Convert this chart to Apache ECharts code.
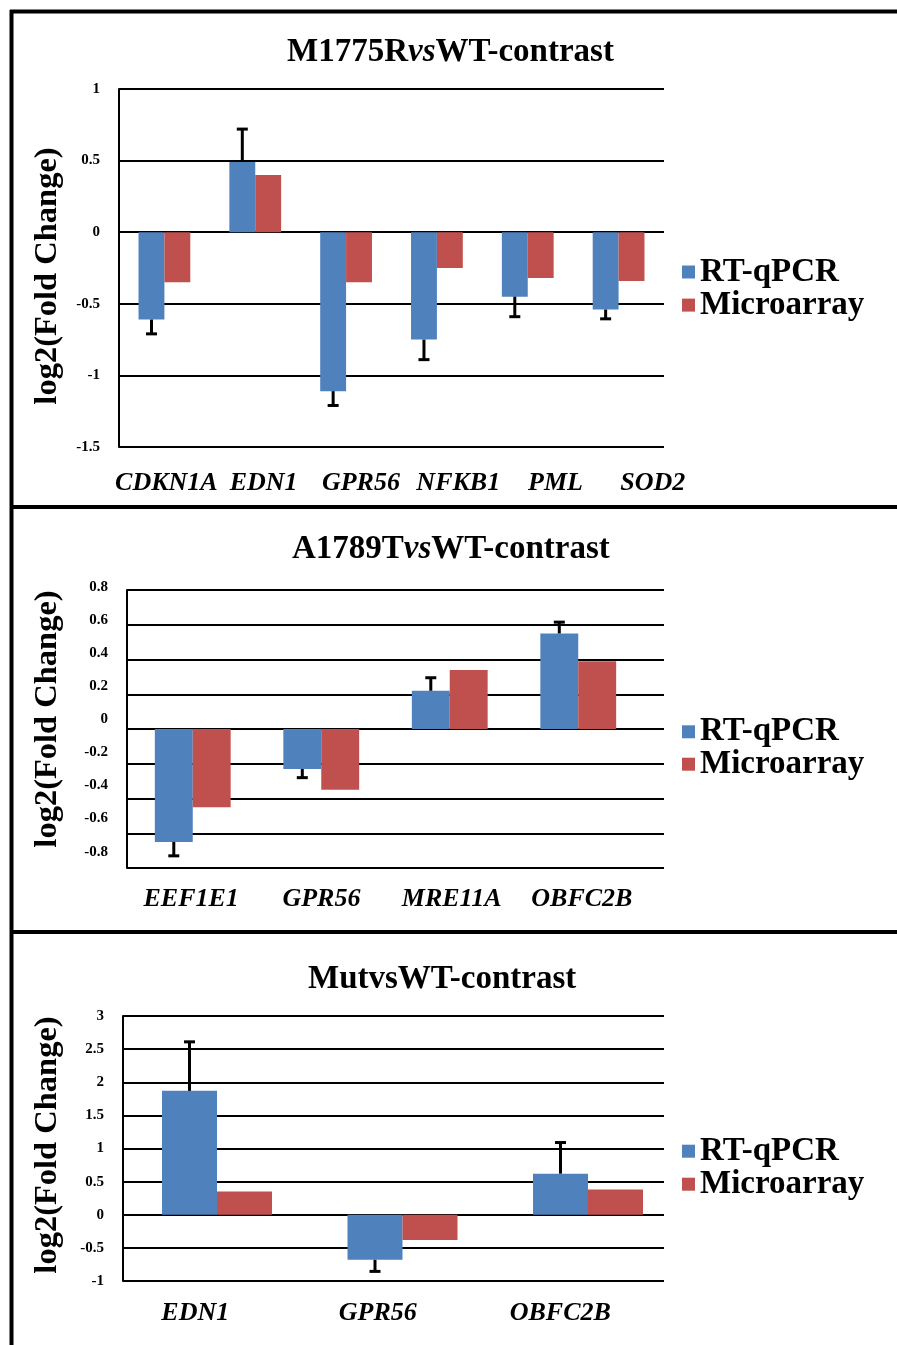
<!DOCTYPE html>
<html>
<head>
<meta charset="utf-8">
<script src="https://cdn.jsdelivr.net/npm/echarts@6/dist/echarts.min.js"></script>
<style>
html,body{margin:0;padding:0;background:#fff;}
#c{width:897px;height:1345px;}
</style>
</head>
<body>
<div id="c"></div>
<script>
// ---- data ----
const cats1 = ['CDKN1A', 'EDN1', 'GPR56', 'NFKB1', 'PML', 'SOD2'];
const qpcr1 = [-0.61, 0.49, -1.11, -0.75, -0.45, -0.54];
const qpcrErr1 = [0.10, 0.23, 0.10, 0.14, 0.14, 0.065];
const array1 = [-0.35, 0.40, -0.35, -0.25, -0.32, -0.34];
const yRange1 = [-1.5, 1, 0.5];

const cats2 = ['EEF1E1', 'GPR56', 'MRE11A', 'OBFC2B'];
const qpcr2 = [-0.65, -0.23, 0.22, 0.55];
const qpcrErr2 = [0.08, 0.05, 0.075, 0.065];
const array2 = [-0.45, -0.35, 0.34, 0.39];
const yRange2 = [-0.8, 0.8, 0.2];

const cats3 = ['EDN1', 'GPR56', 'OBFC2B'];
const qpcr3 = [1.87, -0.68, 0.62];
const qpcrErr3 = [0.74, 0.175, 0.47];
const array3 = [0.35, -0.38, 0.38];
const yRange3 = [-1, 3, 0.5];

const titles = [['M1775R', 'vs', 'WT-contrast', true], ['A1789T', 'vs', 'WT-contrast', true], ['Mut', 'vs', 'WT-contrast', false]];
const seriesNames = ['RT-qPCR', 'Microarray'];
const yTitle = 'log2(Fold Change)';

// ---- layout & style ----
const SERIF = "'Liberation Serif','Times New Roman',serif";
const BLUE = '#4F81BD', RED = '#C0504D';

const panels = [
  {cats: cats1, q: qpcr1, e: qpcrErr1, a: array1, y: yRange1,
   frame: {left: 119, width: 545, top: 89, height: 358},
   bar: {left: 119, width: 545}, gap: 0.43,
   label: {left: 117.7, width: 583.8, top: 89, height: 358}, xLblMargin: 23, yOnLabel: false,
   titleLeft: 287, titleTop: 36, legTops: [250, 288.6], yTitleY: 276},
  {cats: cats2, q: qpcr2, e: qpcrErr2, a: array2, y: yRange2,
   frame: {left: 127, width: 537, top: 590, height: 278},
   bar: {left: 128.5, width: 514}, gap: 0.41,
   label: {left: 126, width: 521, top: 587, height: 264.7}, xLblMargin: 35, yOnLabel: true,
   titleLeft: 292, titleTop: 533.5, legTops: [709.8, 747.7], yTitleY: 719},
  {cats: cats3, q: qpcr3, e: qpcrErr3, a: array3, y: yRange3,
   frame: {left: 123, width: 541, top: 1016, height: 265},
   bar: {left: 124.25, width: 556.5}, gap: 0.407,
   label: {left: 104, width: 547.5, top: 1016, height: 265}, xLblMargin: 19, yOnLabel: false,
   titleLeft: 308, titleTop: 963, legTops: [1129.2, 1167.7], yTitleY: 1145}
];

function errRender(gap) {
  return function (params, api) {
    const i = api.value(0), v = api.value(1), e = api.value(2);
    const end = v >= 0 ? v + e : v - e;
    const catW = api.size([1, 0])[0];
    const barW = catW * (1 - gap) / 2;
    const p0 = api.coord([i, v]);
    const p1 = api.coord([i, end]);
    const x = p0[0] - barW / 2;
    const st = {stroke: '#000', lineWidth: 3};
    return {type: 'group', children: [
      {type: 'line', shape: {x1: x, y1: p0[1], x2: x, y2: p1[1]}, style: st},
      {type: 'line', shape: {x1: x - 5.5, y1: p1[1], x2: x + 5.5, y2: p1[1]}, style: st}
    ]};
  };
}

const option = {
  backgroundColor: '#fff',
  animation: false,
  title: [], grid: [], xAxis: [], yAxis: [], series: [], legend: [],
  graphic: []
};

const yLabelStyle = {fontFamily: SERIF, fontWeight: 'bold', fontSize: 15, color: '#000'};

panels.forEach((p, k) => {
  const t = titles[k];
  option.title.push({
    text: '{n|' + t[0] + '}{' + (t[3] ? 'i' : 'n') + '|' + t[1] + '}{n|' + t[2] + '}',
    left: p.titleLeft, top: p.titleTop, padding: 0,
    textStyle: {rich: {
      n: {fontFamily: SERIF, fontWeight: 'bold', fontSize: 33, color: '#000', lineHeight: 32},
      i: {fontFamily: SERIF, fontWeight: 'bold', fontStyle: 'italic', fontSize: 33, color: '#000', lineHeight: 32}
    }}
  });

  const base = option.grid.length;
  // frame grid: y axis line, gridlines
  option.grid.push(Object.assign({}, p.frame));
  // bar grid
  option.grid.push({left: p.bar.left, width: p.bar.width, top: p.frame.top, height: p.frame.height});
  // label grid
  option.grid.push(Object.assign({}, p.label));

  // frame axes
  option.xAxis.push({type: 'category', gridIndex: base, data: p.cats, show: false});
  option.yAxis.push({
    type: 'value', gridIndex: base, min: p.y[0], max: p.y[1], interval: p.y[2],
    axisLine: {show: true, lineStyle: {color: '#000', width: 2}},
    axisTick: {show: false},
    splitLine: {show: true, lineStyle: {color: '#000', width: 2}},
    axisLabel: Object.assign({show: !p.yOnLabel, margin: 19}, yLabelStyle)
  });
  // bar axes
  option.xAxis.push({type: 'category', gridIndex: base + 1, data: p.cats, show: false});
  option.yAxis.push({type: 'value', gridIndex: base + 1, min: p.y[0], max: p.y[1], interval: p.y[2], show: false});
  // label axes
  option.xAxis.push({
    type: 'category', gridIndex: base + 2, data: p.cats,
    axisLine: {show: false, onZero: false}, axisTick: {show: false}, splitLine: {show: false},
    axisLabel: {interval: 0, margin: p.xLblMargin, fontFamily: SERIF, fontWeight: 'bold', fontStyle: 'italic', fontSize: 26, color: '#000'}
  });
  option.yAxis.push({
    type: 'value', gridIndex: base + 2, min: p.y[0], max: p.y[1], interval: p.y[2],
    show: p.yOnLabel,
    axisLine: {show: false}, axisTick: {show: false}, splitLine: {show: false},
    axisLabel: Object.assign({margin: 18}, yLabelStyle)
  });

  const barAx = base + 1;
  option.series.push({
    name: seriesNames[0], type: 'bar', xAxisIndex: barAx, yAxisIndex: barAx, data: p.q,
    barGap: '0%', barCategoryGap: (p.gap * 100).toFixed(1) + '%',
    itemStyle: {color: BLUE}
  });
  option.series.push({
    name: seriesNames[1], type: 'bar', xAxisIndex: barAx, yAxisIndex: barAx, data: p.a,
    barGap: '0%', barCategoryGap: (p.gap * 100).toFixed(1) + '%',
    itemStyle: {color: RED}
  });
  option.series.push({
    type: 'custom', xAxisIndex: barAx, yAxisIndex: barAx, z: 5,
    data: p.q.map((v, i) => [i, v, p.e[i]]),
    encode: {x: 0, y: 1},
    renderItem: errRender(p.gap)
  });

  seriesNames.forEach((nm, j) => {
    option.legend.push({
      data: [nm], orient: 'vertical', left: 682, top: p.legTops[j], padding: 0,
      icon: 'rect', itemWidth: 13, itemHeight: 13,
      textStyle: {fontFamily: SERIF, fontWeight: 'bold', fontSize: 33, color: '#000', lineHeight: 30,
                  padding: [0, 0, j === 0 ? 14 : 2, 0]}
    });
  });

  option.graphic.push({
    type: 'text', x: 48, y: p.yTitleY, rotation: Math.PI / 2,
    style: {text: yTitle, font: 'bold 32.5px ' + SERIF, fill: '#000', align: 'center', verticalAlign: 'middle'}
  });
});

// outer frame & separators
const frame = [
  [10, 11.5, 897, 11.5], [11.5, 10, 11.5, 1345], [10, 507, 897, 507], [10, 932, 897, 932]
];
frame.forEach(f => option.graphic.push({
  type: 'line', shape: {x1: f[0], y1: f[1], x2: f[2], y2: f[3]}, style: {stroke: '#000', lineWidth: 4}
}));

const chart = echarts.init(document.getElementById('c'), null, {renderer: 'canvas'});
chart.setOption(option);
</script>
</body>
</html>
